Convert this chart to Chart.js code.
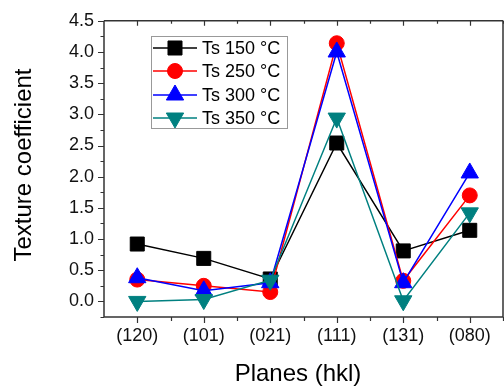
<!DOCTYPE html>
<html>
<head>
<meta charset="utf-8">
<script src="https://cdn.jsdelivr.net/npm/chart.js@4/dist/chart.umd.min.js"></script>
<style>
html,body{margin:0;padding:0;background:#fff;overflow:hidden;width:504px;height:388px;}
#wrap{position:absolute;left:0;top:0;width:514px;height:388px;}
</style>
</head>
<body>
<div id="wrap"><canvas id="c" width="514" height="388"></canvas></div>
<script>
const planes = ['(120)', '(101)', '(021)', '(111)', '(131)', '(080)'];
const ts150 = [0.92, 0.69, 0.36, 2.54, 0.81, 1.14];
const ts250 = [0.35, 0.25, 0.15, 4.14, 0.33, 1.70];
const ts300 = [0.38, 0.17, 0.30, 4.00, 0.30, 2.06];
const ts350 = [0.00, 0.03, 0.34, 2.94, 0.01, 1.42];
const seriesNames = ['Ts 150 °C', 'Ts 250 °C', 'Ts 300 °C', 'Ts 350 °C'];
const yTickValues = [0, 0.5, 1, 1.5, 2, 2.5, 3, 3.5, 4, 4.5];

const AX = '#333333';
const FONT = 'Arial, "Liberation Sans", sans-serif';

function ds(label, data, color, style, radius, rotation, order) {
  return {
    label, data, order,
    borderColor: color, backgroundColor: color,
    borderWidth: 1.5,
    pointStyle: style, pointRadius: radius, pointHoverRadius: radius,
    pointRotation: rotation,
    pointBackgroundColor: color, pointBorderColor: color, pointBorderWidth: 1,
    tension: 0, fill: false
  };
}

const datasets = [
  ds(seriesNames[0], ts150, '#000000', 'rect', 9.9, 0, 3),
  ds(seriesNames[1], ts250, '#ff0000', 'circle', 7.5, 0, 2),
  ds(seriesNames[2], ts300, '#0000ff', 'triangle', 10, 0, 1),
  ds(seriesNames[3], ts350, '#008080', 'triangle', 10, 180, 0)
];

const decor = {
  id: 'decor',
  afterDraw(chart) {
    const ctx = chart.ctx;
    const a = chart.chartArea;
    const xs = chart.scales.x, ys = chart.scales.y;
    ctx.save();
    ctx.strokeStyle = AX;
    ctx.lineWidth = 1.5;
    ctx.beginPath();
    ctx.moveTo(a.left, a.top); ctx.lineTo(a.right, a.top);
    ctx.moveTo(a.left, a.top); ctx.lineTo(a.left, a.bottom);
    ctx.moveTo(a.left - 0.75, a.bottom); ctx.lineTo(a.right, a.bottom);
    ctx.moveTo(a.right, a.top); ctx.lineTo(a.right, a.bottom);
    ctx.stroke();
    ctx.lineWidth = 1.2;
    ctx.beginPath();
    for (let k = -1; k <= 18; k++) {
      const v = k * 0.25;
      const py = Math.round(ys.getPixelForValue(v)) + 0.5;
      const len = (k % 2 === 0) ? 6 : 3.5;
      ctx.moveTo(a.left - len, py); ctx.lineTo(a.left, py);
    }
    const step = xs.getPixelForValue(1) - xs.getPixelForValue(0);
    for (let i = 0; i < planes.length; i++) {
      const px = Math.round(xs.getPixelForValue(i)) + 0.5;
      ctx.moveTo(px, a.bottom); ctx.lineTo(px, a.bottom + 6);
      ctx.moveTo(px, a.top); ctx.lineTo(px, a.top + 5);
      const mx = Math.round(xs.getPixelForValue(i) + step / 2) + 0.5;
      ctx.moveTo(mx, a.bottom); ctx.lineTo(mx, a.bottom + 4);
      ctx.moveTo(mx, a.top); ctx.lineTo(mx, a.top + 3);
    }
    ctx.stroke();
    ctx.fillStyle = '#000';
    ctx.font = '24px ' + FONT;
    ctx.textAlign = 'center';
    ctx.textBaseline = 'middle';
    ctx.fillText('Planes (hkl)', 298, 374);
    ctx.save();
    ctx.translate(24, 165);
    ctx.rotate(-Math.PI / 2);
    ctx.fillText('Texture coefficient', 0, 0);
    ctx.restore();
    const lx = 151, ly = 36, lw = 136, lh = 92;
    ctx.fillStyle = '#fff';
    ctx.fillRect(lx, ly, lw, lh);
    ctx.strokeStyle = '#999';
    ctx.lineWidth = 1;
    ctx.strokeRect(lx + 0.5, ly + 0.5, lw, lh);
    const rows = [48, 71, 95, 118];
    ctx.font = '18px ' + FONT;
    ctx.textAlign = 'left';
    chart.data.datasets.forEach((d, i) => {
      const y = rows[i];
      ctx.strokeStyle = d.borderColor;
      ctx.lineWidth = 1.5;
      ctx.beginPath();
      ctx.moveTo(153, y); ctx.lineTo(197, y);
      ctx.stroke();
      ctx.fillStyle = d.pointBackgroundColor;
      ctx.strokeStyle = d.pointBorderColor;
      ctx.lineWidth = 1;
      Chart.helpers.drawPoint(ctx, {
        pointStyle: d.pointStyle, radius: d.pointRadius,
        rotation: d.pointRotation, borderWidth: 1
      }, 175, y);
      ctx.fillStyle = '#000';
      ctx.fillText(d.label, 202, y + 1);
    });
    ctx.restore();
  }
};

new Chart(document.getElementById('c'), {
  type: 'line',
  data: { labels: planes, datasets },
  options: {
    responsive: false,
    animation: false,
    layout: { padding: { top: 15, right: 2, left: 0, bottom: 0 } },
    plugins: { legend: { display: false }, tooltip: { enabled: false } },
    scales: {
      x: {
        type: 'category', offset: true,
        grid: { display: false, drawTicks: false },
        border: { display: false },
        ticks: { color: '#111', font: { size: 18, family: FONT }, padding: 8, maxRotation: 0, autoSkip: false },
        afterFit(s) { s.height = 71; }
      },
      y: {
        type: 'linear', min: -0.25, max: 4.5,
        grid: { display: false, drawTicks: false },
        border: { display: false },
        afterBuildTicks(s) { s.ticks = yTickValues.map(v => ({ value: v })); },
        ticks: {
          color: '#111', font: { size: 18, family: FONT }, padding: 10,
          callback: v => Number(v).toFixed(1)
        },
        afterFit(s) { s.width = 104; }
      }
    }
  },
  plugins: [decor]
});
</script>
</body>
</html>
